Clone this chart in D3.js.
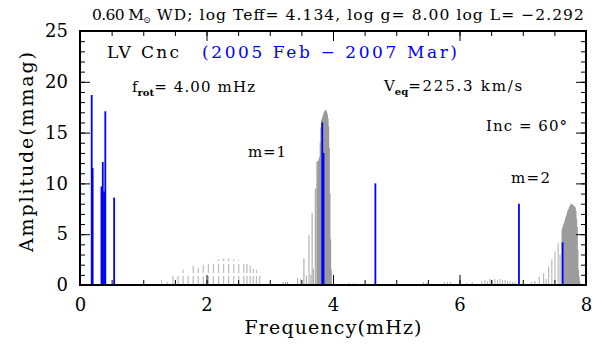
<!DOCTYPE html>
<meta charset="utf-8">
<head>
  <title>LV Cnc</title>
  <script src="https://d3js.org/d3.v7.min.js"></script>
  <style>
    body { margin: 0; background: #fff; }
    text { font-family: "DejaVu Serif", serif; fill: #000; }
  </style>
</head>
<body>
<div id="display"></div>
<script>

// observed frequencies (blue)
var blueFreq = [0.185, 0.20, 0.34, 0.36, 0.38, 0.40, 0.54, 3.83, 3.85, 4.67, 6.94, 7.63];
var blueAmp  = [18.7, 11.5, 9.7, 12.1, 9.2, 17.1, 8.6, 16.0, 13.0, 10.0, 8.0, 4.2];

// model spectrum (gray), m=0 hump drawn dashed
var humpFreq = [1.47, 1.55, 1.63, 1.71, 1.79, 1.87, 1.95, 2.03, 2.11, 2.19, 2.27, 2.35, 2.43, 2.51, 2.59, 2.64, 2.69, 2.74, 2.79, 2.84];
var humpAmp  = [1.0, 0.9, 1.5, 1.2, 1.9, 1.7, 2.0, 2.2, 2.4, 2.5, 2.6, 2.6, 2.5, 2.4, 2.3, 2.1, 1.9, 1.6, 1.5, 1.2];

// m=1 group
var m1LightFreq = [3.21, 3.25, 3.28, 3.44, 3.49, 3.54, 3.58, 3.62, 3.65, 3.67, 3.69, 3.72, 3.73, 3.745, 3.755];
var m1LightAmp  = [0.3, 0.3, 0.3, 0.7, 0.6, 2.6, 0.9, 4.9, 1.0, 7.1, 1.6, 9.5, 9.5, 12.1, 12.2];
var m1DarkFreq = [3.76, 3.77, 3.78, 3.79, 3.80, 3.81, 3.82, 3.83, 3.84, 3.85, 3.86, 3.87, 3.88, 3.89, 3.90, 3.91, 3.92, 3.93, 3.94, 3.95, 3.96, 3.97];
var m1DarkAmp  = [10.0, 12.2, 12.4, 12.6, 14.0, 15.5, 16.2, 16.4, 16.6, 16.8, 17.0, 17.1, 17.2, 17.2, 17.0, 16.8, 16.4, 15.6, 13.5, 9.0, 4.5, 1.5];

// m=2 group
var m2LightFreq = [7.14, 7.19, 7.26, 7.33, 7.37, 7.41, 7.46, 7.51, 7.56, 7.59, 7.62];
var m2LightAmp  = [0.3, 0.4, 0.8, 1.15, 0.6, 1.8, 2.5, 3.3, 4.1, 3.0, 5.4];
var m2DarkFreq = [7.63, 7.64, 7.65, 7.66, 7.67, 7.68, 7.69, 7.70, 7.71, 7.72, 7.73, 7.74, 7.75, 7.76, 7.77, 7.78, 7.79, 7.80, 7.81, 7.82, 7.83, 7.84, 7.85, 7.86, 7.87, 7.88, 7.89, 7.90];
var m2DarkAmp  = [5.6, 5.8, 6.0, 6.2, 6.4, 6.6, 6.8, 7.0, 7.2, 7.4, 7.5, 7.7, 7.8, 7.9, 8.0, 7.9, 7.9, 7.8, 7.8, 7.7, 7.6, 7.3, 6.5, 5.7, 3.5, 1.5, 0.8, 0.4];

// scattered weak modes
var smallFreq = [1.29, 1.38, 4.25, 4.33, 5.43, 5.48, 5.76, 5.81, 5.86, 6.12, 6.20, 6.35, 6.40, 6.44, 6.48, 6.52, 6.56, 6.60, 6.64, 6.68, 6.72, 6.76, 6.80, 6.84, 6.88];
var smallAmp  = [0.5, 0.3, 0.2, 0.2, 0.3, 0.2, 0.3, 0.3, 0.3, 0.2, 0.3, 0.4, 0.5, 0.4, 0.6, 0.5, 0.6, 0.5, 0.6, 0.5, 0.5, 0.4, 0.4, 0.3, 0.3];

var xMajor = [0, 2, 4, 6, 8];
var xMinor = d3.range(0, 8.01, 0.5);
var yMajor = [0, 5, 10, 15, 20, 25];
var yMinor = d3.range(0, 25.01, 1);

var width = 606, height = 347;

var svg = d3.select("#display")
  .append("svg")
    .attr("width", width)
    .attr("height", height);

var x = d3.scaleLinear().domain([0, 8]).range([80, 586]);
var y = d3.scaleLinear().domain([0, 25]).range([285, 31]);

function zip(f, a) { return f.map(function(d, i) { return {f: d, a: a[i]}; }); }

function drawLines(data, color, w, dash) {
  svg.append("g")
    .selectAll("line")
    .data(data)
    .enter()
    .append("line")
      .attr("x1", function(d) { return x(d.f); })
      .attr("x2", function(d) { return x(d.f); })
      .attr("y1", y(0))
      .attr("y2", function(d) { return y(d.a); })
      .attr("stroke", color)
      .attr("stroke-width", w)
      .attr("stroke-dasharray", dash || null);
}

drawLines(zip(smallFreq, smallAmp), "#b0b0b0", 1);
drawLines(zip(humpFreq, humpAmp), "#bcbcbc", 1.2, "9,3");
drawLines(zip(m1LightFreq, m1LightAmp), "#ababab", 1.1);
drawLines(zip(m1DarkFreq, m1DarkAmp), "#9a9a9a", 1.3);
drawLines(zip(m2LightFreq, m2LightAmp), "#b4b4b4", 1.1);
drawLines(zip(m2DarkFreq, m2DarkAmp), "#9c9c9c", 1.3);
drawLines(zip(blueFreq, blueAmp), "#0000ff", 1.8);

// axes, ticks pointing inward on all four sides
function styleAxis(g) {
  g.select(".domain").remove();
  g.selectAll(".tick line").attr("stroke", "#000").attr("stroke-width", 1);
  g.selectAll("text").style("font-family", "DejaVu Serif").style("font-size", "18px").attr("fill", "#000");
}

svg.append("g").attr("transform", "translate(0," + y(0) + ")")
  .call(d3.axisBottom(x).tickValues(xMinor).tickSize(-5).tickFormat(""))
  .call(styleAxis);
svg.append("g").attr("transform", "translate(0," + y(0) + ")")
  .call(d3.axisBottom(x).tickValues(xMajor).tickSize(-10).tickPadding(13).tickFormat(d3.format("d")))
  .call(styleAxis);
svg.append("g").attr("transform", "translate(0," + y(25) + ")")
  .call(d3.axisTop(x).tickValues(xMinor).tickSize(-5).tickFormat(""))
  .call(styleAxis);
svg.append("g").attr("transform", "translate(0," + y(25) + ")")
  .call(d3.axisTop(x).tickValues(xMajor).tickSize(-10).tickFormat(""))
  .call(styleAxis);

svg.append("g").attr("transform", "translate(" + x(0) + ",0)")
  .call(d3.axisLeft(y).tickValues(yMinor).tickSize(-5).tickFormat(""))
  .call(styleAxis);
svg.append("g").attr("transform", "translate(" + x(0) + ",0)")
  .call(d3.axisLeft(y).tickValues(yMajor).tickSize(-10).tickPadding(12).tickFormat(d3.format("d")))
  .call(styleAxis);
svg.append("g").attr("transform", "translate(" + x(8) + ",0)")
  .call(d3.axisRight(y).tickValues(yMinor).tickSize(-5).tickFormat(""))
  .call(styleAxis);
svg.append("g").attr("transform", "translate(" + x(8) + ",0)")
  .call(d3.axisRight(y).tickValues(yMajor).tickSize(-10).tickFormat(""))
  .call(styleAxis);

svg.append("rect")
  .attr("x", x(0)).attr("y", y(25))
  .attr("width", x(8) - x(0)).attr("height", y(0) - y(25))
  .attr("fill", "none").attr("stroke", "#000").attr("stroke-width", 2);

// axis titles
svg.append("text")
  .attr("x", 333).attr("y", 334)
  .attr("text-anchor", "middle")
  .style("font-size", "19px")
  .attr("textLength", 177)
  .text("Frequency(mHz)");

svg.append("text")
  .attr("transform", "translate(33,152) rotate(-90)")
  .attr("text-anchor", "middle")
  .style("font-size", "19px")
  .attr("textLength", 200)
  .text("Amplitude(mmag)");

// header
var title = svg.append("text").attr("x", 92).attr("y", 20).style("font-size", "15.5px");
title.append("tspan").attr("textLength", 52).text("0.60 M");
title.append("tspan").attr("dy", 3).style("font-size", "9px").text("\u2299");
title.append("tspan").attr("dy", -3).attr("textLength", 433).text(" WD; log Teff= 4.134, log g= 8.00 log L= \u22122.292");

svg.append("text")
  .attr("x", 107).attr("y", 58)
  .style("font-size", "17px")
  .attr("textLength", 72)
  .text("LV Cnc");
svg.append("text")
  .attr("x", 202).attr("y", 58)
  .style("font-size", "17px")
  .style("fill", "#0000ff")
  .attr("textLength", 255)
  .text("(2005 Feb \u2212 2007 Mar)");

var frot = svg.append("text").attr("x", 132).attr("y", 92).style("font-size", "15px");
frot.append("tspan").text("f");
frot.append("tspan").attr("dy", 4).style("font-size", "10px").style("font-weight", "bold").text("rot");
frot.append("tspan").attr("dy", -4).attr("textLength", 101).text("= 4.00 mHz");

var veq = svg.append("text").attr("x", 384).attr("y", 91).style("font-size", "15px");
veq.append("tspan").text("V");
veq.append("tspan").attr("dy", 4).style("font-size", "10px").style("font-weight", "bold").text("eq");
veq.append("tspan").attr("dy", -4).attr("textLength", 114).text("=225.3 km/s");

svg.append("text")
  .attr("x", 486).attr("y", 131)
  .style("font-size", "15px")
  .attr("textLength", 81)
  .text("Inc = 60\u00b0");

svg.append("text")
  .attr("x", 248).attr("y", 157)
  .style("font-size", "15px")
  .attr("textLength", 38)
  .text("m=1");

svg.append("text")
  .attr("x", 511).attr("y", 183)
  .style("font-size", "15px")
  .attr("textLength", 39)
  .text("m=2");

</script>
</body>
